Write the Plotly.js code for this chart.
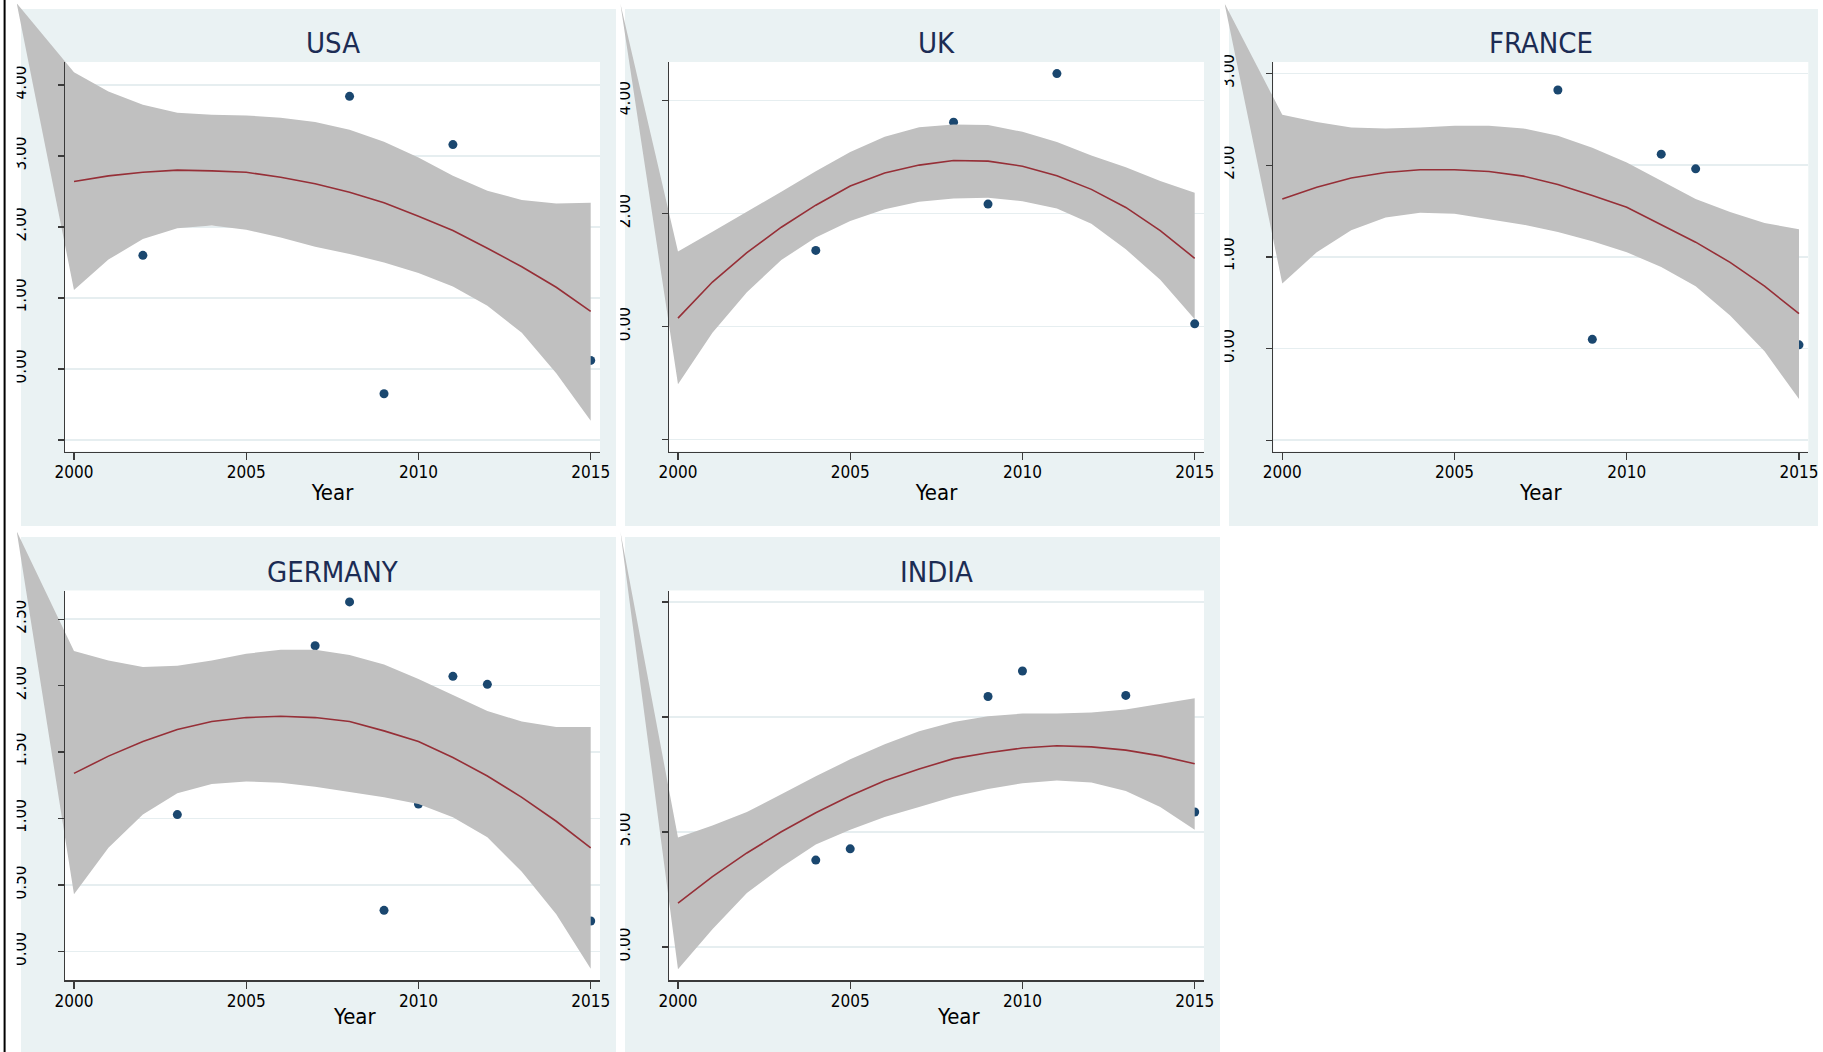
<!DOCTYPE html>
<html>
<head>
<meta charset="utf-8">
<script src="https://cdn.plot.ly/plotly-3.0.1.min.js"></script>
<style>
html,body{margin:0;padding:0;background:#ffffff;}
#chart{width:1823px;height:1052px;}
</style>
</head>
<body>
<div id="chart"></div>
<script>
// ---------------- DATA ----------------
const years = [2000,2001,2002,2003,2004,2005,2006,2007,2008,2009,2010,2011,2012,2013,2014,2015];
const xTickVals = [2000,2005,2010,2015];
const xTickText = ['2000','2005','2010','2015'];
const xAxisTitle = 'Year';

const usaTitle = 'USA';
const usaPointYears = [2002,2008,2009,2011,2015];
const usaPointValues = [1.60,3.84,-0.35,3.16,0.12];
const usaFit   = [2.64,2.72,2.77,2.80,2.79,2.77,2.70,2.61,2.49,2.34,2.15,1.95,1.70,1.44,1.15,0.81];
const usaUpper = [4.18,3.91,3.72,3.61,3.58,3.57,3.54,3.48,3.37,3.20,2.98,2.72,2.51,2.38,2.33,2.34];
const usaLower = [1.11,1.54,1.83,1.98,2.02,1.96,1.85,1.72,1.62,1.50,1.35,1.16,0.89,0.51,-0.06,-0.73];
const usaYTickVals = [-1,0,1,2,3,4];
const usaYTickText = ['','0.00','1.00','2.00','3.00','4.00'];

const ukTitle = 'UK';
const ukPointYears = [2004,2008,2009,2011,2015];
const ukPointValues = [1.35,3.62,2.17,4.48,0.05];
const ukFit   = [0.15,0.79,1.31,1.76,2.15,2.49,2.72,2.86,2.94,2.93,2.84,2.67,2.43,2.11,1.70,1.21];
const ukUpper = [1.33,1.68,2.03,2.39,2.75,3.09,3.36,3.53,3.58,3.57,3.45,3.27,3.03,2.82,2.58,2.37];
const ukLower = [-1.02,-0.11,0.61,1.18,1.58,1.87,2.08,2.21,2.27,2.28,2.22,2.09,1.82,1.37,0.83,0.13];
const ukYTickVals = [-2,0,2,4];
const ukYTickText = ['','0.00','2.00','4.00'];

const franceTitle = 'FRANCE';
const francePointYears = [2008,2009,2011,2012,2015];
const francePointValues = [2.82,0.10,2.12,1.96,0.04];
const franceFit   = [1.63,1.76,1.86,1.92,1.95,1.95,1.93,1.88,1.79,1.67,1.54,1.35,1.16,0.94,0.68,0.38];
const franceUpper = [2.55,2.47,2.41,2.40,2.41,2.43,2.43,2.40,2.32,2.19,2.03,1.83,1.63,1.49,1.37,1.30];
const franceLower = [0.71,1.05,1.29,1.43,1.48,1.47,1.41,1.35,1.27,1.17,1.05,0.89,0.68,0.36,-0.03,-0.55];
const franceYTickVals = [-1,0,1,2,3];
const franceYTickText = ['','0.00','1.00','2.00','3.00'];

const germanyTitle = 'GERMANY';
const germanyPointYears = [2003,2007,2008,2009,2010,2011,2012,2015];
const germanyPointValues = [1.03,2.30,2.63,0.31,1.11,2.07,2.01,0.23];
const germanyFit   = [1.34,1.47,1.58,1.67,1.73,1.76,1.77,1.76,1.73,1.66,1.58,1.46,1.32,1.16,0.98,0.78];
const germanyUpper = [2.26,2.19,2.14,2.15,2.19,2.24,2.27,2.27,2.23,2.16,2.05,1.93,1.81,1.73,1.69,1.69];
const germanyLower = [0.43,0.78,1.03,1.19,1.26,1.28,1.27,1.24,1.20,1.16,1.11,1.01,0.86,0.60,0.28,-0.13];
const germanyYTickVals = [0,0.5,1,1.5,2,2.5];
const germanyYTickText = ['0.00','0.50','1.00','1.50','2.00','2.50'];

const indiaTitle = 'INDIA';
const indiaPointYears = [2004,2005,2009,2010,2013,2015];
const indiaPointValues = [3.78,4.27,10.89,12.00,10.94,5.87];
const indiaFit   = [1.91,3.06,4.09,5.01,5.84,6.58,7.23,7.74,8.19,8.45,8.65,8.75,8.70,8.56,8.31,7.97];
const indiaUpper = [4.76,5.28,5.87,6.64,7.42,8.16,8.82,9.38,9.78,10.03,10.15,10.15,10.20,10.33,10.57,10.82];
const indiaLower = [-0.96,0.77,2.35,3.47,4.46,5.10,5.65,6.09,6.53,6.87,7.12,7.24,7.15,6.78,6.09,5.10];
const indiaYTickVals = [0,5,10,15];
const indiaYTickText = ['0.00','5.00','',''];

// ---------------- LAYOUT GEOMETRY (pixels) ----------------
const W = 1823, H = 1052;
const FONT = '"Liberation Sans Narrow", "Arial Narrow", "DejaVu Sans Condensed", "Liberation Sans", sans-serif';
const PANEL_BG = '#eaf2f3';
const GRID = '#e6eef0';
const BAND = '#c0c0c0';
const FIT = '#962f37';
const MARK = '#1a476f';
const TITLE_COL = '#1c2c54';
const AXIS_COL = '#3a3a3a';

const xRange = [1999.739, 2015.27];
const colLeft = [65, 669, 1273.3];
const colBg = [[21,616],[625,1220],[1229,1818]];
const colVx = [16.7, 620.3, 1224.5];
const rowTop = [62, 590.5];
const rowBg = [[9,526],[537,1052]];
const rowVy = [3.3, 531.2];
const plotW = 535, plotH = 389.6;

const panels = [
  {title: usaTitle, col:0, row:0, px:usaPointYears, py:usaPointValues, fit:usaFit, up:usaUpper, lo:usaLower, yr:[-1.165,4.324], tv:usaYTickVals, tt:usaYTickText},
  {title: ukTitle, col:1, row:0, px:ukPointYears, py:ukPointValues, fit:ukFit, up:ukUpper, lo:ukLower, yr:[-2.212,4.685], tv:ukYTickVals, tt:ukYTickText},
  {title: franceTitle, col:2, row:0, px:francePointYears, py:francePointValues, fit:franceFit, up:franceUpper, lo:franceLower, yr:[-1.124,3.125], tv:franceYTickVals, tt:franceYTickText},
  {title: germanyTitle, col:0, row:1, px:germanyPointYears, py:germanyPointValues, fit:germanyFit, up:germanyUpper, lo:germanyLower, yr:[-0.215,2.716], tv:germanyYTickVals, tt:germanyYTickText},
  {title: indiaTitle, col:1, row:1, px:indiaPointYears, py:indiaPointValues, fit:indiaFit, up:indiaUpper, lo:indiaLower, yr:[-1.437,15.50], tv:indiaYTickVals, tt:indiaYTickText}
];

const px2x = v => v / W;
const px2y = v => 1 - v / H;
const axName = (l, n) => l + 'axis' + (n === 1 ? '' : n);
const axRef = (l, n) => l + (n === 1 ? '' : n);

const data = [];
const layout = {
  width: W, height: H,
  margin: {l:0, r:0, t:0, b:0, pad:0},
  paper_bgcolor: '#ffffff',
  plot_bgcolor: 'rgba(0,0,0,0)',
  showlegend: false,
  font: {family: FONT, color: '#000000'},
  shapes: [],
  annotations: []
};

// panel backgrounds and white plot regions
panels.forEach(p => {
  const bx = colBg[p.col], by = rowBg[p.row];
  layout.shapes.push({type:'rect', xref:'paper', yref:'paper', layer:'below',
    x0:px2x(bx[0]), x1:px2x(bx[1]), y0:px2y(by[1]), y1:px2y(by[0]),
    fillcolor:PANEL_BG, line:{width:0}});
});
panels.forEach(p => {
  const l = colLeft[p.col], t = rowTop[p.row];
  layout.shapes.push({type:'rect', xref:'paper', yref:'paper', layer:'below',
    x0:px2x(l), x1:px2x(l+plotW), y0:px2y(t+plotH), y1:px2y(t),
    fillcolor:'#ffffff', line:{width:0}});
});

// Three stacked layers per panel: A = grid + points, B = CI band (with its stray vertex), C = fit line + axes
const N = panels.length;
const traceA = [], traceB = [], traceC = [];
panels.forEach((p, i) => {
  const a = i + 1, b = i + 1 + N, c = i + 1 + 2 * N;
  const l = colLeft[p.col], t = rowTop[p.row];
  const dx = [px2x(l), px2x(l + plotW)];
  const dy = [px2y(t + plotH), px2y(t)];

  // layer A
  layout[axName('x', a)] = {domain: dx, range: xRange, anchor: axRef('y', a), visible: false, fixedrange: true};
  layout[axName('y', a)] = {domain: dy, range: p.yr, anchor: axRef('x', a), showgrid: true, gridcolor: GRID, gridwidth: 1.6,
    tickmode: 'array', tickvals: p.tv, showticklabels: false, ticks: '', showline: false, zeroline: false, fixedrange: true};
  traceA.push({type:'scatter', mode:'markers', x:p.px, y:p.py, xaxis:axRef('x', a), yaxis:axRef('y', a),
    marker:{color:MARK, size:9, line:{width:0}}, hoverinfo:'skip'});

  // layer B : the band polygon drawn in a frame that starts at the stray top-left vertex
  const vx = colVx[p.col], vy = rowVy[p.row];
  const pxPerX = plotW / (xRange[1] - xRange[0]);
  const pxPerY = plotH / (p.yr[1] - p.yr[0]);
  const ox0 = xRange[0] - (l - vx) / pxPerX;
  const oy1 = p.yr[1] + (t - vy) / pxPerY;
  layout[axName('x', b)] = {domain: [px2x(vx), px2x(l + plotW)], range: [ox0, xRange[1]], anchor: axRef('y', b), visible: false, fixedrange: true};
  layout[axName('y', b)] = {domain: [px2y(t + plotH), px2y(vy)], range: [p.yr[0], oy1], anchor: axRef('x', b), visible: false, fixedrange: true};
  const bandX = [ox0].concat(years, years.slice().reverse(), [ox0]);
  const bandY = [oy1].concat(p.up, p.lo.slice().reverse(), [oy1]);
  traceB.push({type:'scatter', mode:'lines', x:bandX, y:bandY, xaxis:axRef('x', b), yaxis:axRef('y', b),
    fill:'toself', fillcolor:BAND, line:{width:0, color:BAND}, hoverinfo:'skip'});

  // layer C
  const xa = {domain: dx, range: xRange, anchor: axRef('y', c), showgrid: false, zeroline: false,
    showline: true, linecolor: AXIS_COL, linewidth: 1.4,
    ticks: 'outside', ticklen: 7, tickwidth: 1.3, tickcolor: AXIS_COL,
    tickmode: 'array', tickvals: xTickVals, ticktext: xTickText,
    tickfont: {family: FONT, size: 17, color: '#000000'}, ticklabelstandoff: -2, fixedrange: true};
  if (p.row === 0) {
    xa.title = {text: xAxisTitle, font: {family: FONT, size: 22, color: '#000000'}, standoff: 3};
  }
  layout[axName('x', c)] = xa;
  layout[axName('y', c)] = {domain: dy, range: p.yr, anchor: axRef('x', c), showgrid: false, zeroline: false,
    showline: true, linecolor: AXIS_COL, linewidth: 1.4,
    ticks: 'outside', ticklen: 6, tickwidth: 1.3, tickcolor: AXIS_COL,
    tickmode: 'array', tickvals: p.tv, ticktext: p.tt, tickangle: -90,
    tickfont: {family: FONT, size: 17, color: '#000000'}, ticklabelstandoff: 25, fixedrange: true};
  traceC.push({type:'scatter', mode:'lines', x:years, y:p.fit, xaxis:axRef('x', c), yaxis:axRef('y', c),
    line:{color:FIT, width:1.6}, hoverinfo:'skip'});

  // panel title
  layout.annotations.push({xref:'paper', yref:'paper', x:px2x(l + plotW / 2), y:px2y(rowTop[p.row] - 19),
    xanchor:'center', yanchor:'middle', showarrow:false, text:p.title,
    font:{family: FONT, size: 29, color: TITLE_COL}});
  if (p.row === 1) {
    layout.annotations.push({xref:'paper', yref:'paper', x:px2x(l + plotW / 2 + 22), y:px2y(t + plotH + 36.5),
      xanchor:'center', yanchor:'middle', showarrow:false, text:xAxisTitle,
      font:{family: FONT, size: 22, color: '#000000'}});
  }
});
data.push(...traceA, ...traceB, ...traceC);

// partial masking of rotated tick labels, as in the original export
const maskX = [[8, colVx[0]], [colBg[0][1], colVx[1]], [colBg[1][1], colVx[2]]];
maskX.forEach(m => {
  layout.shapes.push({type:'rect', xref:'paper', yref:'paper', layer:'above',
    x0:px2x(m[0]), x1:px2x(m[1]), y0:0, y1:1, fillcolor:'#ffffff', line:{width:0}});
});
// left page border line
layout.shapes.push({type:'line', xref:'paper', yref:'paper', layer:'above',
  x0:px2x(4.6), x1:px2x(4.6), y0:0, y1:1, line:{color:'#000000', width:2}});

Plotly.newPlot('chart', data, layout, {displayModeBar:false, staticPlot:true});
</script>
</body>
</html>
